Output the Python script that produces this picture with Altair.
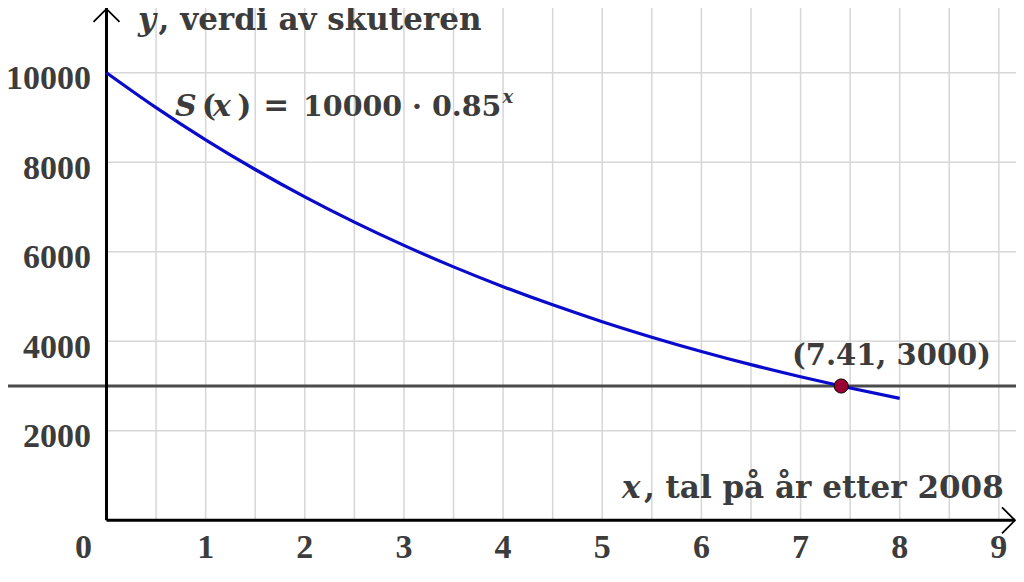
import altair as alt
import pandas as pd

# ---------------- data ----------------
curve_x = [0, 0.5, 1, 1.5, 2, 2.5, 3, 3.5, 4, 4.5, 5, 5.5, 6, 6.5, 7, 7.5, 8]
curve_y = [10000, 9220, 8500, 7837, 7225, 6661, 6141, 5662, 5220, 4813, 4437,
           4091, 3771, 3477, 3206, 2956, 2725]

grid_x = [0.5, 1, 1.5, 2, 2.5, 3, 3.5, 4, 4.5, 5, 5.5, 6, 6.5, 7, 7.5, 8, 8.5, 9]
grid_y = [2000, 4000, 6000, 8000, 10000]

x_tick_values = [1, 2, 3, 4, 5, 6, 7, 8, 9]
x_tick_labels = ["1", "2", "3", "4", "5", "6", "7", "8", "9"]
y_tick_values = [2000, 4000, 6000, 8000, 10000]
y_tick_labels = ["2000", "4000", "6000", "8000", "10000"]

line_level = 3000
point_x = [7.41]
point_y = [3000]
point_label = ["(7.41, 3000)"]

# ---------------- scales ----------------
X_MIN, X_MAX = -0.9934, 9.173
Y_MIN, Y_MAX = -1021, 11445
X_ARROW, Y_ARROW = 9.163, 11423

xs = alt.Scale(domain=[X_MIN, X_MAX], zero=False, nice=False)
ys = alt.Scale(domain=[Y_MIN, Y_MAX], zero=False, nice=False)

def X(f="x"):
    return alt.X(f"{f}:Q", scale=xs, axis=None)

def Y(f="y"):
    return alt.Y(f"{f}:Q", scale=ys, axis=None)

TXT = "#3c3c3c"
TICKFONT = "Liberation Serif"
MATHFONT = "DejaVu Serif"

# grid
vgrid = alt.Chart(pd.DataFrame({"x": grid_x, "y": 0, "y2": Y_MAX})).mark_rule(
    color="#d6d6d6", strokeWidth=1.5
).encode(x=X(), y=Y(), y2="y2:Q")

hgrid = alt.Chart(pd.DataFrame({"y": grid_y, "x": 0, "x2": X_MAX})).mark_rule(
    color="#d6d6d6", strokeWidth=1.5
).encode(y=Y(), x=X(), x2="x2:Q")

# horizontal line y = 3000
hline = alt.Chart(pd.DataFrame({"y": [line_level], "x": X_MIN, "x2": X_MAX})).mark_rule(
    color="#4a4a4a", strokeWidth=3
).encode(y=Y(), x=X(), x2="x2:Q")

# axes lines
yaxis = alt.Chart(pd.DataFrame({"x": [0], "y": [0], "y2": [Y_MAX]})).mark_rule(
    color="black", strokeWidth=3
).encode(x=X(), y=Y(), y2="y2:Q")
xaxis = alt.Chart(pd.DataFrame({"y": [0], "x": [0], "x2": [X_ARROW]})).mark_rule(
    color="black", strokeWidth=3
).encode(y=Y(), x=X(), x2="x2:Q")

up_arrow = alt.Chart(pd.DataFrame({"x": [0], "y": [Y_ARROW]})).mark_point(
    shape="M-1,1L0,0L1,1", size=676, filled=False, stroke="black", strokeWidth=1.8, opacity=1
).encode(x=X(), y=Y())
right_arrow = alt.Chart(pd.DataFrame({"x": [X_ARROW], "y": [0]})).mark_point(
    shape="M-1,-1L0,0L-1,1", size=676, filled=False, stroke="black", strokeWidth=1.8, opacity=1
).encode(x=X(), y=Y())

# curve
curve = alt.Chart(pd.DataFrame({"x": curve_x, "y": curve_y})).mark_line(
    color="#0a0acc", strokeWidth=3.2, interpolate="monotone"
).encode(x=X(), y=Y())

# intersection point
pt = alt.Chart(pd.DataFrame({"x": point_x, "y": point_y})).mark_point(
    shape="circle", size=200, filled=True, fill="#990033", stroke="black",
    strokeWidth=1, opacity=1
).encode(x=X(), y=Y())

pt_label = alt.Chart(pd.DataFrame({"x": [7.917], "y": [3470], "t": point_label})).mark_text(
    font=MATHFONT, fontSize=29, fontWeight="bold", color=TXT, align="center", baseline="alphabetic"
).encode(x=X(), y=Y(), text="t:N")

# tick labels
xt = alt.Chart(pd.DataFrame({"x": x_tick_values, "y": -842, "t": x_tick_labels})).mark_text(
    font=TICKFONT, fontSize=34, fontWeight="bold", color=TXT, align="center", baseline="alphabetic"
).encode(x=X(), y=Y(), text="t:N")
x0 = alt.Chart(pd.DataFrame({"x": [0], "y": [-842], "t": ["0"]})).mark_text(
    font=TICKFONT, fontSize=34, fontWeight="bold", color=TXT, align="center",
    baseline="alphabetic", dx=-23
).encode(x=X(), y=Y(), text="t:N")
yt = alt.Chart(pd.DataFrame({"y": y_tick_values, "x": 0, "t": y_tick_labels})).mark_text(
    font=TICKFONT, fontSize=34, fontWeight="bold", color=TXT, align="right",
    baseline="alphabetic", dx=-15.5, dy=16.5
).encode(x=X(), y=Y(), text="t:N")

def txt(x, y, t, italic=False, size=29, align="left"):
    return alt.Chart(pd.DataFrame({"x": [x], "y": [y], "t": [t]})).mark_text(
        font=MATHFONT, fontSize=size, fontWeight="bold",
        fontStyle="italic" if italic else "normal",
        color=TXT, align=align, baseline="alphabetic"
    ).encode(x=X(), y=Y(), text="t:N")

texts = [
    # y axis title
    txt(0.318, 10954, "y", italic=True, size=31),
    txt(0.525, 10954, ", verdi av skuteren", size=31),
    # x axis title
    txt(5.199, 498, "x", italic=True, size=31),
    txt(5.42, 498, ", tal på år etter 2008", size=31),
    # function label
    txt(0.691, 9033, "S", italic=True, size=30),
    txt(0.960, 9033, "(", size=30),
    txt(1.075, 9033, "x", italic=True, size=30),
    txt(1.320, 9033, ")", size=30),
    txt(1.580, 9033, "=", size=31),
    txt(1.982, 9033, "10000 · 0.85", size=28.5),
    txt(3.995, 9323, "x", italic=True, size=18),
]

chart = alt.layer(
    vgrid, hgrid, hline, yaxis, xaxis, curve, pt, pt_label, xt, x0, yt,
    *texts, up_arrow, right_arrow
).properties(
    width=1008, height=558, padding=0, autosize=alt.AutoSizeParams(type="none"),
    background="white"
).configure_view(stroke=None)

chart.save("out.html", embed_options={"renderer": "svg", "actions": False})
